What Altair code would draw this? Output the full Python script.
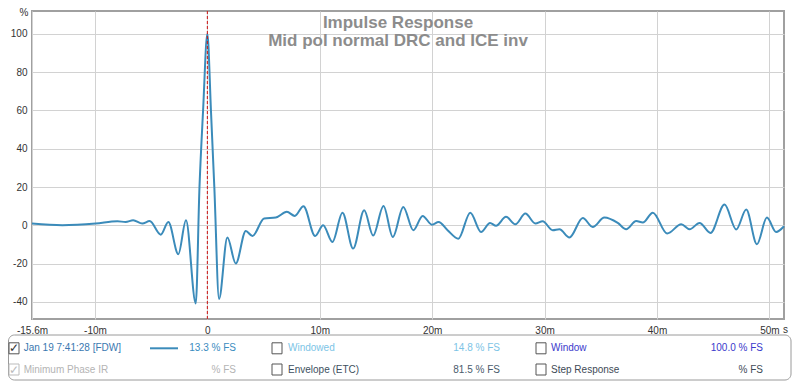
import altair as alt
import pandas as pd

# ---- data ----
t_ms = [-15.6, -12.9, -9.94, -8.0, -7.27, -6.6, -5.79, -5.13, -4.15, -3.47, -2.58, -1.9,
        -1.03, -0.7, -0.38, 0.0, 0.32, 0.62, 1.04, 1.78, 2.53, 3.42, 4.01, 5.05, 6.09,
        7.07, 7.78, 8.55, 9.59, 10.3, 11.13, 12.02, 12.97, 13.95, 14.75, 15.67, 16.5,
        17.43, 18.32, 19.15, 19.98, 20.57, 21.37, 22.33, 23.39, 24.35, 25.15, 25.68,
        26.57, 27.4, 28.29, 29.18, 29.83, 30.72, 31.32, 32.21, 33.4, 34.28, 35.32,
        36.51, 37.26, 38.15, 38.74, 39.63, 40.91, 42.16, 42.9, 43.79, 44.76, 46.01,
        47.05, 47.94, 48.89, 49.78, 50.6, 51.3]
amp = [0.9, 0.0, 0.9, 2.1, 1.7, 2.6, 0.9, 2.2, -4.9, 1.7, -15.1, 2.6,
       -40.9, 20, 60, 100, 60, 20, -38.5, -6.4, -20, -3.0, -5.6, 3.5, 4.0,
       7.0, 4.9, 9.9, -5.6, 0, -8.7, 6.6, -12.2, 7.8, -5.4, 10.1, -6.1,
       9.6, -2.6, 4.9, 0.3, 1.7, -2.6, -7.0, 6.6, -3.5, 1.2, -0.3,
       4.4, 0.5, 6.1, 0.9, 2.1, -2.6, -2.1, -6.4, 3.8, -0.9, 4.0,
       1.2, -2.1, 2.2, 1.4, 6.6, -4.3, 0.5, -2.1, 1.2, -4.0, 10.8,
       -2.2, 8.2, -9.9, 4.0, -3.5, -0.5]
x_ticks = [-15.6, -10, 0, 10, 20, 30, 40, 50]
y_ticks = [-40, -20, 0, 20, 40, 60, 80, 100]
marker_t = [0]
title_lines = ["Impulse Response", "Mid pol normal DRC and ICE inv"]
legend_row1 = ["Jan 19 7:41:28 [FDW]", "13.3 % FS", "Windowed", "14.8 % FS", "Window", "100.0 % FS"]
legend_row2 = ["Minimum Phase IR", "% FS", "Envelope (ETC)", "81.5 % FS", "Step Response", "% FS"]

# ---- styling ----
W, H = 752, 308
FONT = "Liberation Sans"
CURVE = "#3b8bba"

df = pd.DataFrame({"t": t_ms, "a": amp})
xs = alt.Scale(domain=[-15.6, 51.3], nice=False, zero=False)
ys = alt.Scale(domain=[-49, 112], nice=False, zero=False)

axis_common = dict(title=None, grid=True, gridColor="#d2d2d2", gridWidth=1, domain=False,
                   ticks=False, labelFont=FONT, labelFontSize=10, labelColor="#333333")

curve = alt.Chart(df).mark_line(color=CURVE, strokeWidth=2, interpolate="monotone").encode(
    x=alt.X("t:Q", scale=xs, axis=alt.Axis(values=x_ticks, labelPadding=6, labelFlush=False,
            labelExpr="datum.value == 0 ? '0' : datum.value + 'm'", **axis_common)),
    y=alt.Y("a:Q", scale=ys, axis=alt.Axis(values=y_ticks, labelPadding=5,
            labelExpr="'' + datum.value", **axis_common)),
)

marker = alt.Chart(pd.DataFrame({"t": marker_t})).mark_rule(
    color="#cc1111", strokeDash=[3, 2], strokeWidth=1).encode(x=alt.X("t:Q", scale=xs))

one = pd.DataFrame({"k": [0]})


def txt(s, x, y, color, size=10, align="left", weight="normal", baseline="middle"):
    return alt.Chart(one).mark_text(text=s, align=align, baseline=baseline, color=color,
                                    fontSize=size, font=FONT, fontWeight=weight).encode(
        x=alt.value(x), y=alt.value(y))


def box(x1, x2, y1, y2, stroke, fill="white", r=0, sw=1):
    return alt.Chart(one).mark_rect(fill=fill, stroke=stroke, strokeWidth=sw, cornerRadius=r).encode(
        x=alt.value(x1), x2=alt.value(x2), y=alt.value(y1), y2=alt.value(y2))


layers = [curve, marker]

# titles
layers.append(txt(title_lines[0], 366, 17, "#8c8c8c", size=17, align="center", weight="bold", baseline="alphabetic"))
layers.append(txt(title_lines[1], 366, 35, "#8c8c8c", size=17, align="center", weight="bold", baseline="alphabetic"))
# units
layers.append(txt("%", -8, -3, "#333333", size=10, align="center", baseline="top"))
layers.append(txt("s", 751, 319, "#333333", size=10, align="left", baseline="middle"))

# legend panel
layers.append(box(-23.5, 759, 324, 369, "#9a9a9a", r=6))
R1, R2 = 337.3, 358.5
col_x = [-23, 240, 504]
# checkboxes
for i, cx in enumerate(col_x):
    s1 = "#555555"
    s2 = "#bbbbbb" if i == 0 else "#555555"
    layers.append(box(cx, cx + 10, R1 - 5.5, R1 + 5.5, s1))
    layers.append(box(cx, cx + 10, R2 - 5.5, R2 + 5.5, s2))
layers.append(txt("\u2713", -18, R1, "#333333", size=12, align="center"))
layers.append(txt("\u2713", -18, R2, "#bbbbbb", size=12, align="center"))
# sample line
layers.append(alt.Chart(one).mark_rule(color=CURVE, strokeWidth=2).encode(
    x=alt.value(118), x2=alt.value(146), y=alt.value(R1)))

row1_colors = ["#3a78b0", "#3a8cc0", "#7cc4e6", "#7cc4e6", "#3a3acc", "#3a3acc"]
row2_colors = ["#b4b4b4", "#b4b4b4", "#3e4f60", "#4a5b6c", "#3e4a56", "#3e4a56"]
left_x = [-8.3, 256, 519]
right_x = [204, 468, 731]
for j in range(3):
    layers.append(txt(legend_row1[2 * j], left_x[j], R1, row1_colors[2 * j]))
    layers.append(txt(legend_row1[2 * j + 1], right_x[j], R1, row1_colors[2 * j + 1], align="right"))
    layers.append(txt(legend_row2[2 * j], left_x[j], R2, row2_colors[2 * j]))
    layers.append(txt(legend_row2[2 * j + 1], right_x[j], R2, row2_colors[2 * j + 1], align="right"))

chart = alt.layer(*layers).properties(
    width=W, height=H,
    autosize=alt.AutoSizeParams(type="none"),
    padding={"left": 24, "top": 3, "right": 8, "bottom": 62},
    background="white",
).configure_view(stroke="#a0a0a0", strokeWidth=2)

chart.save("out.html", embed_options={"renderer": "svg", "actions": False})
